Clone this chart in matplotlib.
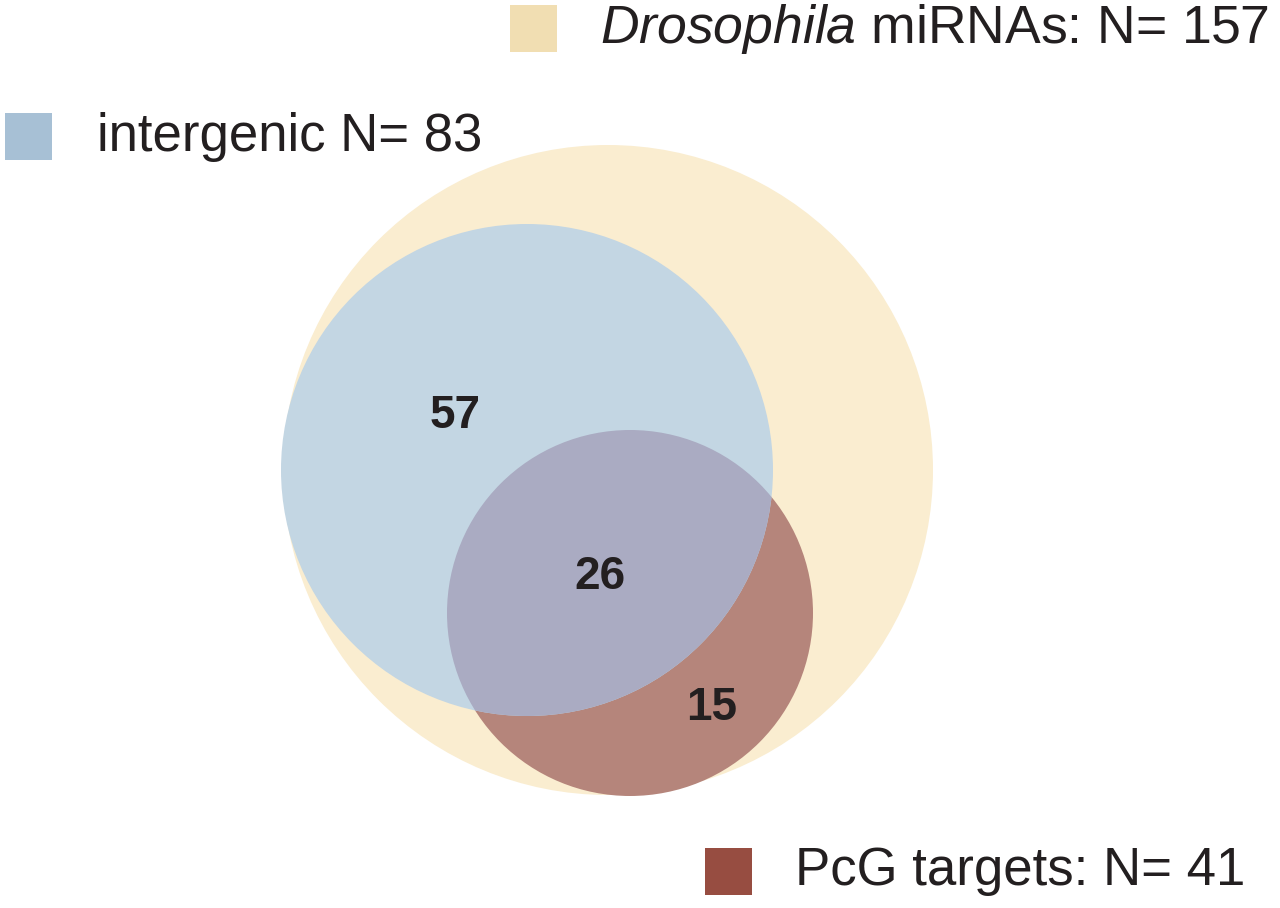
import matplotlib.pyplot as plt
from matplotlib.patches import Circle, Rectangle

# set sizes and region counts
set_labels = ["Drosophila miRNAs", "intergenic", "PcG targets"]
set_totals = [157, 83, 41]
region_labels = ["57", "26", "15"]

plt.rcParams['font.family'] = ['Liberation Sans', 'DejaVu Sans']
plt.rcParams['mathtext.fontset'] = 'custom'
plt.rcParams['mathtext.rm'] = 'Liberation Sans'
plt.rcParams['mathtext.it'] = 'Liberation Sans:italic'

fig = plt.figure(figsize=(12.8, 9.08), dpi=100)
ax = fig.add_axes([0, 0, 1, 1])
ax.set_xlim(0, 1280)
ax.set_ylim(908, 0)
ax.set_aspect('equal')
ax.axis('off')

# circles (pixel layout)
yellow = Circle((608, 470), 325, color='#FAEDD0', lw=0)
blue = Circle((527, 470), 246, color='#C3D6E3', lw=0)
red = Circle((630, 613), 183, color='#B5857B', lw=0)
ax.add_patch(yellow)
ax.add_patch(red)
ax.add_patch(blue)
overlap = Circle((527, 470), 246, color='#AAABC2', lw=0)
ax.add_patch(overlap)
overlap.set_clip_path(Circle((630, 613), 183, transform=ax.transData))

# region counts
ax.text(455, 416, region_labels[0], fontsize=33, fontweight='bold', color='#231F20',
        ha='center', va='center')
ax.text(600, 577, region_labels[1], fontsize=33, fontweight='bold', color='#231F20',
        ha='center', va='center')
ax.text(712, 708, region_labels[2], fontsize=33, fontweight='bold', color='#231F20',
        ha='center', va='center')

# legend
ax.add_patch(Rectangle((510, 5), 47, 47, color='#F1DEB2', lw=0))
ax.text(600, 29, r"$\it{Drosophila}$" + f" miRNAs: N= {set_totals[0]}", fontsize=38.5,
        color='#231F20', ha='left', va='center')
ax.add_patch(Rectangle((5, 113), 47, 47, color='#A7C0D5', lw=0))
ax.text(97, 137, f"{set_labels[1]} N= {set_totals[1]}", fontsize=38,
        color='#231F20', ha='left', va='center')
ax.add_patch(Rectangle((705, 848), 47, 47, color='#974D41', lw=0))
ax.text(795, 871, f"{set_labels[2]}: N= {set_totals[2]}", fontsize=38,
        color='#231F20', ha='left', va='center')

fig.savefig('out.png', dpi=100)
